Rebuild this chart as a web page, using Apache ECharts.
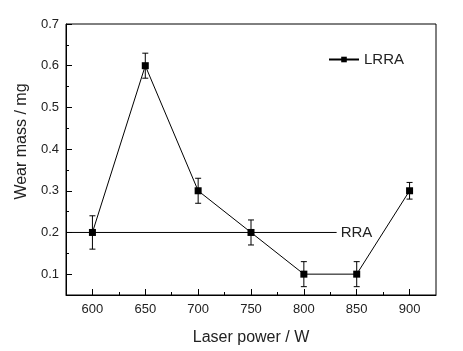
<!DOCTYPE html>
<html>
<head>
<meta charset="utf-8">
<script src="https://cdn.jsdelivr.net/npm/echarts@6/dist/echarts.min.js"></script>
<style>
  html, body { margin: 0; padding: 0; background: #fff; }
  #chart { width: 463px; height: 351px; }
</style>
</head>
<body>
<div id="chart"></div>
<script>
// data
const powers = [600, 650, 700, 750, 800, 850, 900];
const lrraMass = [0.2, 0.6, 0.3, 0.2, 0.1, 0.1, 0.3];
const lrraErr = [0.04, 0.03, 0.03, 0.03, 0.03, 0.03, 0.02];
const rraMass = 0.2;
const rraPowers = [575, 831];
// axis ticks
const xTicks = [600, 650, 700, 750, 800, 850, 900];
const xMinorTicks = [625, 675, 725, 775, 825, 875];
const yTicks = [0.1, 0.2, 0.3, 0.4, 0.5, 0.6, 0.7];
const yMinorTicks = [0.15, 0.25, 0.35, 0.45, 0.55, 0.65];

const font = "'Liberation Sans', Arial, sans-serif";
const textColor = "#222";

const chart = echarts.init(document.getElementById("chart"));

// error bars drawn with the axis scales
function renderErrorBar(params, api) {
  const x = api.value(0);
  const y = api.value(1);
  const e = api.value(2);
  const top = api.coord([x, y + e]);
  const bot = api.coord([x, y - e]);
  const half = 3;
  const style = { stroke: "#000", lineWidth: 1 };
  return {
    type: "group",
    children: [
      { type: "line", shape: { x1: top[0], y1: top[1], x2: bot[0], y2: bot[1] }, style: style },
      { type: "line", shape: { x1: top[0] - half, y1: top[1], x2: top[0] + half, y2: top[1] }, style: style },
      { type: "line", shape: { x1: bot[0] - half, y1: bot[1], x2: bot[0] + half, y2: bot[1] }, style: style }
    ]
  };
}

const option = {
  backgroundColor: "#fff",
  animation: false,
  grid: {
    left: 66,
    right: 27,
    top: 24,
    bottom: 55,
    show: true,
    borderColor: "#000",
    borderWidth: 1
  },
  legend: {
    left: 323,
    top: 47,
    itemWidth: 30,
    itemHeight: 7,
    itemGap: 4,
    data: ["LRRA"],
    textStyle: { fontFamily: font, fontSize: 15, color: textColor }
  },
  xAxis: [
    {
      type: "value",
      min: 575,
      max: 925,
      position: "bottom",
      name: "Laser power / W",
      nameLocation: "middle",
      nameGap: 35,
      nameTextStyle: { fontFamily: font, fontSize: 16, color: textColor },
      axisLine: { show: true, lineStyle: { color: "#000", width: 1 } },
      axisTick: { show: true, inside: true, length: 6, customValues: xTicks, lineStyle: { color: "#000" } },
      axisLabel: {
        customValues: xTicks,
        margin: 8,
        fontFamily: font,
        fontSize: 13,
        color: textColor
      },
      splitLine: { show: false }
    },
    {
      type: "value",
      min: 575,
      max: 925,
      position: "bottom",
      axisLine: { show: false },
      axisTick: { show: true, inside: true, length: 3, customValues: xMinorTicks, lineStyle: { color: "#000" } },
      axisLabel: { show: false },
      splitLine: { show: false }
    }
  ],
  yAxis: [
    {
      type: "value",
      min: 0.05,
      max: 0.7,
      position: "left",
      name: "Wear mass / mg",
      nameLocation: "middle",
      nameGap: 29,
      nameTextStyle: { fontFamily: font, fontSize: 16, color: textColor, padding: [0, 0, 0, 36] },
      axisLine: { show: true, lineStyle: { color: "#000", width: 1 } },
      axisTick: { show: true, inside: true, length: 6, customValues: yTicks, lineStyle: { color: "#000" } },
      axisLabel: {
        customValues: yTicks,
        margin: 7,
        fontFamily: font,
        fontSize: 13,
        color: textColor,
        formatter: v => v.toFixed(1)
      },
      splitLine: { show: false }
    },
    {
      type: "value",
      min: 0.05,
      max: 0.7,
      position: "left",
      axisLine: { show: false },
      axisTick: { show: true, inside: true, length: 3, customValues: yMinorTicks, lineStyle: { color: "#000" } },
      axisLabel: { show: false },
      splitLine: { show: false }
    }
  ],
  series: [
    {
      name: "RRA",
      type: "line",
      xAxisIndex: 0,
      yAxisIndex: 0,
      symbol: "none",
      lineStyle: { color: "#000", width: 1 },
      itemStyle: { color: "#000" },
      endLabel: {
        show: true,
        distance: 4,
        formatter: "RRA",
        fontFamily: font,
        fontSize: 15,
        color: textColor
      },
      data: rraPowers.map(p => [p, rraMass])
    },
    {
      name: "LRRA",
      type: "line",
      xAxisIndex: 0,
      yAxisIndex: 0,
      symbol: "rect",
      symbolSize: 7,
      lineStyle: { color: "#000", width: 1 },
      itemStyle: { color: "#000" },
      data: powers.map((p, i) => [p, lrraMass[i]]),
      z: 3
    },
    {
      name: "LRRA error",
      type: "custom",
      xAxisIndex: 0,
      yAxisIndex: 0,
      renderItem: renderErrorBar,
      encode: { x: 0, y: 1 },
      data: powers.map((p, i) => [p, lrraMass[i], lrraErr[i]]),
      z: 2
    }
  ]
};

chart.setOption(option);
</script>
</body>
</html>
